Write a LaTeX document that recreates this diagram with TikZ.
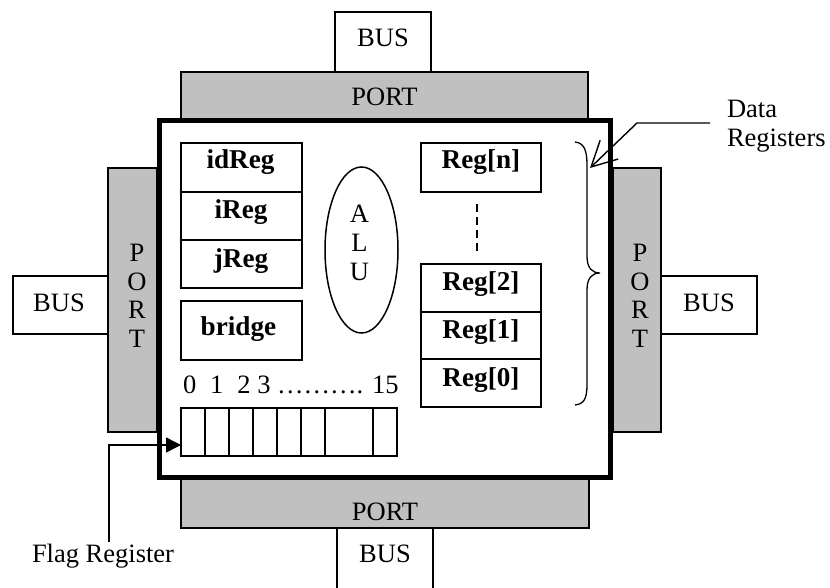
\documentclass[tikz,border=0pt]{standalone}
\usepackage{fontspec}
\setmainfont{Liberation Serif}
\usetikzlibrary{arrows.meta,shapes.geometric}
\definecolor{portgrey}{RGB}{192,192,192}
\begin{document}
\begin{tikzpicture}[x=1pt,y=-1pt,
  thinline/.style={line width=1.5pt},
  box/.style={draw, line width=1.5pt, rectangle, inner sep=0pt, outer sep=0pt, anchor=north west},
  port/.style={box, fill=portgrey},
  txt/.style={font=\fontsize{26.5}{29}\selectfont, inner sep=0pt, outer sep=0pt},
  btxt/.style={font=\fontsize{27.2}{29}\selectfont\bfseries, inner sep=0pt, outer sep=0pt},
  vtxt/.style={txt, align=center, font=\fontsize{26.5}{28.6}\selectfont},
]
\useasboundingbox (0,0) rectangle (830,588);

% buses
\node[box, minimum width=96pt, minimum height=60pt] (busT) at (335,12) {};
\node[box, minimum width=96pt, minimum height=80pt] (busB) at (337,528) {};
\node[box, minimum width=95pt, minimum height=58pt] (busL) at (13,276) {};
\node[box, minimum width=96pt, minimum height=58pt] (busR) at (661,276) {};

% ports
\node[port, minimum width=407pt, minimum height=47pt] (portT) at (181,72) {};
\node[port, minimum width=408pt, minimum height=50pt] (portB) at (181,478) {};
\node[port, minimum width=49pt, minimum height=264pt] (portL) at (108,168) {};
\node[port, minimum width=48pt, minimum height=264pt] (portR) at (613,168) {};

% main box
\node[draw, line width=5pt, fill=white, inner sep=0pt, outer sep=0pt, anchor=north west,
      minimum width=451pt, minimum height=356pt] (main) at (159.5,121) {};

% bus / port texts
\node[txt, anchor=base] (tbusT) at (383,47) {BUS};
\node[txt, anchor=base] (tbusB) at (385,562) {BUS};
\node[txt, anchor=base] (tbusL) at (59,311) {BUS};
\node[txt, anchor=base] (tbusR) at (709,311) {BUS};
\node[txt, anchor=base] (tportT) at (384.5,106) {PORT};
\node[txt, anchor=base] (tportB) at (385,520) {PORT};
\node[vtxt] (tportL) at (137,296) {P\\O\\R\\T};
\node[vtxt] (tportR) at (640,296) {P\\O\\R\\T};

% left registers
\node[box, minimum width=121pt, minimum height=49pt] (idreg) at (181,143) {};
\node[box, minimum width=121pt, minimum height=48pt] (ireg) at (181,192) {};
\node[box, minimum width=121pt, minimum height=48pt] (jreg) at (181,240) {};
\node[box, minimum width=121pt, minimum height=59pt] (bridge) at (181,301) {};
\node[btxt, anchor=base] (tidreg) at (240.5,168.5) {idReg};
\node[btxt, anchor=base] (tireg) at (241,219) {iReg};
\node[btxt, anchor=base] (tjreg) at (241,267) {jReg};
\node[btxt, anchor=base] (tbridge) at (238.5,335) {bridge};

% right registers
\node[box, minimum width=120pt, minimum height=49pt] (regn) at (421,143) {};
\node[box, minimum width=120pt, minimum height=48pt] (reg2) at (421,264) {};
\node[box, minimum width=120pt, minimum height=47pt] (reg1) at (421,312) {};
\node[box, minimum width=120pt, minimum height=48pt] (reg0) at (421,359) {};
\node[btxt, anchor=base] (tregn) at (481,169) {Reg[n]};
\node[btxt, anchor=base] (treg2) at (481,290) {Reg[2]};
\node[btxt, anchor=base] (treg1) at (481,338) {Reg[1]};
\node[btxt, anchor=base] (treg0) at (481,386) {Reg[0]};
\draw[line width=1.5pt, dash pattern=on 8pt off 5pt, shorten <=12pt, shorten >=12pt]
  ([xshift=-4pt]regn.south) -- ([xshift=-4pt]reg2.north);

% ALU
\node[draw, line width=1.5pt, ellipse, inner sep=0pt, minimum width=73pt, minimum height=166pt] (alu) at (361.5,250) {};
\node[vtxt, font=\fontsize{26.5}{29}\selectfont] (talu) at (359.5,243) {A\\L\\U};

% flag register
\node[txt, anchor=base west] (nums) at (183,393) {0\hspace{14pt}1\hspace{14pt}2 3 ………. 15};
\node[box, minimum width=216pt, minimum height=48pt] (flag) at (181,408) {};
\foreach \x in {205,229,253,277,301,325,373}
  \draw[thinline] (\x,408) -- (\x,456);
\coordinate (flagstart) at (109,542);
\draw[thinline, -{Triangle[length=15pt,width=15pt]}] (flagstart) |- ([yshift=-13pt]flag.west);
\node[txt, anchor=base west] (tflag) at (32,562) {Flag Register};

% data registers brace and arrow
\draw[line width=1.3pt] (575,142) .. controls (584,143) and (587,150) .. (587,165)
  -- (587,256) .. controls (587,268) and (592,273) .. (600,273)
  .. controls (592,273) and (587,278) .. (587,290)
  -- (587,384) .. controls (587,399) and (584,404) .. (575,405);
\node[txt, anchor=west, align=left] (tdata) at (727,126) {Data\\Registers};
\coordinate (datastart) at (710,123);
\coordinate (databend) at (637,123);
\coordinate (datatip) at (590,168);
\draw[line width=1.4pt, -{Straight Barb[length=25pt,width=26pt]}] (datastart) -- (databend) -- (datatip);
\end{tikzpicture}
\end{document}
